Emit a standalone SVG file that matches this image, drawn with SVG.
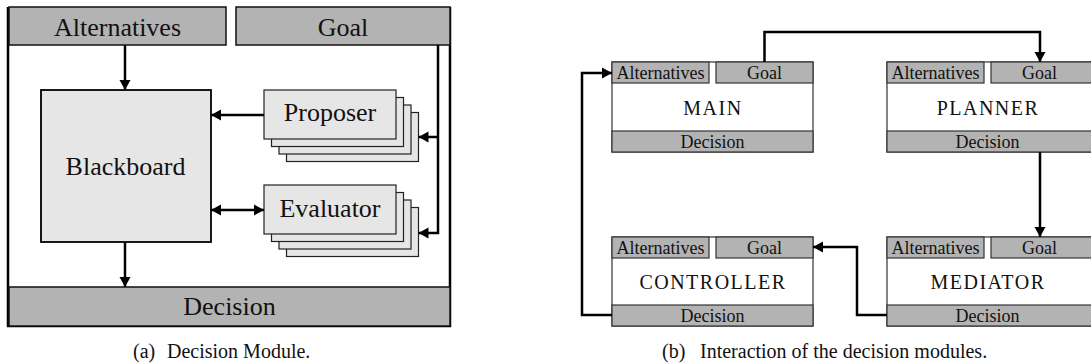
<svg xmlns="http://www.w3.org/2000/svg" width="1091" height="364" viewBox="0 0 1091 364">
  <style>
    .bar { fill: #b3b3b3; stroke: #333; stroke-width: 1.2; }
    .barA { fill: #b3b3b3; stroke: #111; stroke-width: 1.5; }
    .card { fill: #e6e6e6; stroke: #222; stroke-width: 1.2; }
    .body { fill: #ffffff; stroke: #333; stroke-width: 1.2; }
    .frame { fill: none; stroke: #000; stroke-width: 2.5; }
    .wire { fill: none; stroke: #000; stroke-width: 2.5; }
  </style>
  <defs>
    <marker id="head" markerUnits="userSpaceOnUse" markerWidth="12" markerHeight="12" refX="10" refY="6" orient="auto-start-reverse">
      <path d="M0,0.5 L10,6 L0,11.5 z" fill="#000"/>
    </marker>
  </defs>

  <rect width="1091" height="364" fill="#ffffff"/>

  <!-- (a) decision module -->
  <g id="module-frame">
    <path class="frame" d="M8,7 V326 H450 V7"/>
  </g>
  <g id="alternatives-a">
    <rect class="barA" x="9" y="7" width="217" height="38"/>
    <text x="117.5" y="36" font-family="Liberation Serif" font-size="26" text-anchor="middle" fill="#111">Alternatives</text>
  </g>
  <g id="goal-a">
    <rect class="barA" x="236" y="7" width="214" height="38"/>
    <text x="343" y="36" font-family="Liberation Serif" font-size="26" text-anchor="middle" fill="#111">Goal</text>
  </g>
  <g id="decision-a">
    <rect class="barA" x="9" y="287" width="441" height="39"/>
    <text x="229.5" y="315" font-family="Liberation Serif" font-size="26" text-anchor="middle" fill="#111">Decision</text>
  </g>
  <g id="blackboard">
    <rect class="card" x="41" y="90" width="170" height="152" style="stroke:#000;stroke-width:1.8"/>
    <text x="125.5" y="175" font-family="Liberation Serif" font-size="26" text-anchor="middle" fill="#111">Blackboard</text>
  </g>
  <g id="proposer">
    <rect class="card" x="286.5" y="112.5" width="132" height="49"/>
    <rect class="card" x="279" y="105" width="132" height="49"/>
    <rect class="card" x="271.5" y="97.5" width="132" height="49"/>
    <rect class="card" x="264" y="90" width="132" height="49"/>
    <text x="330" y="121" font-family="Liberation Serif" font-size="26" text-anchor="middle" fill="#111">Proposer</text>
  </g>
  <g id="evaluator">
    <rect class="card" x="286.5" y="207.5" width="132" height="49"/>
    <rect class="card" x="279" y="200" width="132" height="49"/>
    <rect class="card" x="271.5" y="192.5" width="132" height="49"/>
    <rect class="card" x="264" y="185" width="132" height="49"/>
    <text x="330" y="217" font-family="Liberation Serif" font-size="26" text-anchor="middle" fill="#111">Evaluator</text>
  </g>

  <!-- (b) interacting modules -->
  <g id="main">
    <rect class="body" x="612" y="62" width="201" height="90"/>
    <rect class="bar" x="612" y="62" width="97" height="21"/>
    <rect class="bar" x="716" y="62" width="97" height="21"/>
    <rect class="bar" x="612" y="131" width="201" height="21"/>
    <text x="660.5" y="79" font-family="Liberation Serif" font-size="18" text-anchor="middle" fill="#111">Alternatives</text>
    <text x="764.5" y="79" font-family="Liberation Serif" font-size="18" text-anchor="middle" fill="#111">Goal</text>
    <text x="713" y="115" font-family="Liberation Serif" font-size="20" letter-spacing="1.5" text-anchor="middle" fill="#111">MAIN</text>
    <text x="712.5" y="147.5" font-family="Liberation Serif" font-size="18" text-anchor="middle" fill="#111">Decision</text>
  </g>
  <g id="planner">
    <rect class="body" x="887" y="62" width="206" height="90"/>
    <rect class="bar" x="887" y="62" width="97" height="21"/>
    <rect class="bar" x="991" y="62" width="102" height="21"/>
    <rect class="bar" x="887" y="131" width="206" height="21"/>
    <text x="935.5" y="79" font-family="Liberation Serif" font-size="18" text-anchor="middle" fill="#111">Alternatives</text>
    <text x="1039.5" y="79" font-family="Liberation Serif" font-size="18" text-anchor="middle" fill="#111">Goal</text>
    <text x="988" y="115" font-family="Liberation Serif" font-size="20" letter-spacing="1.5" text-anchor="middle" fill="#111">PLANNER</text>
    <text x="987.5" y="147.5" font-family="Liberation Serif" font-size="18" text-anchor="middle" fill="#111">Decision</text>
  </g>
  <g id="controller">
    <rect class="body" x="612" y="237" width="201" height="89"/>
    <rect class="bar" x="612" y="237" width="97" height="21"/>
    <rect class="bar" x="716" y="237" width="97" height="21"/>
    <rect class="bar" x="612" y="305" width="201" height="21"/>
    <text x="660.5" y="254" font-family="Liberation Serif" font-size="18" text-anchor="middle" fill="#111">Alternatives</text>
    <text x="764.5" y="254" font-family="Liberation Serif" font-size="18" text-anchor="middle" fill="#111">Goal</text>
    <text x="713" y="289" font-family="Liberation Serif" font-size="20" letter-spacing="1.5" text-anchor="middle" fill="#111">CONTROLLER</text>
    <text x="712.5" y="321.5" font-family="Liberation Serif" font-size="18" text-anchor="middle" fill="#111">Decision</text>
  </g>
  <g id="mediator">
    <rect class="body" x="887" y="237" width="206" height="89"/>
    <rect class="bar" x="887" y="237" width="97" height="21"/>
    <rect class="bar" x="991" y="237" width="102" height="21"/>
    <rect class="bar" x="887" y="305" width="206" height="21"/>
    <text x="935.5" y="254" font-family="Liberation Serif" font-size="18" text-anchor="middle" fill="#111">Alternatives</text>
    <text x="1039.5" y="254" font-family="Liberation Serif" font-size="18" text-anchor="middle" fill="#111">Goal</text>
    <text x="988" y="289" font-family="Liberation Serif" font-size="20" letter-spacing="1.5" text-anchor="middle" fill="#111">MEDIATOR</text>
    <text x="987.5" y="321.5" font-family="Liberation Serif" font-size="18" text-anchor="middle" fill="#111">Decision</text>
  </g>

  <g id="connectors">
    <!-- (a) -->
    <path class="wire" d="M125,45 V90" marker-end="url(#head)"/>
    <path class="wire" d="M125,242 V287" marker-end="url(#head)"/>
    <path class="wire" d="M264,115 H211" marker-end="url(#head)"/>
    <path class="wire" d="M211,210 H264" marker-start="url(#head)" marker-end="url(#head)"/>
    <path class="wire" d="M438,45 V233 H418.5" marker-end="url(#head)"/>
    <path class="wire" d="M438,137 H418.5" marker-end="url(#head)"/>
    <!-- (b) -->
    <path class="wire" d="M764.5,62 V32 H1040 V62" marker-end="url(#head)"/>
    <path class="wire" d="M1040,152 V237" marker-end="url(#head)"/>
    <path class="wire" d="M887,315 H857 V247 H813" marker-end="url(#head)"/>
    <path class="wire" d="M612,315 H582 V73 H612" marker-end="url(#head)"/>
  </g>

  <g id="captions">
    <text x="133" y="358" font-family="Liberation Serif" font-size="20" fill="#111">(a)</text>
    <text x="167" y="358" font-family="Liberation Serif" font-size="20" fill="#111">Decision Module.</text>
    <text x="662" y="358" font-family="Liberation Serif" font-size="20" fill="#111">(b)</text>
    <text x="700" y="358" font-family="Liberation Serif" font-size="20" fill="#111">Interaction of the decision modules.</text>
  </g>
</svg>
